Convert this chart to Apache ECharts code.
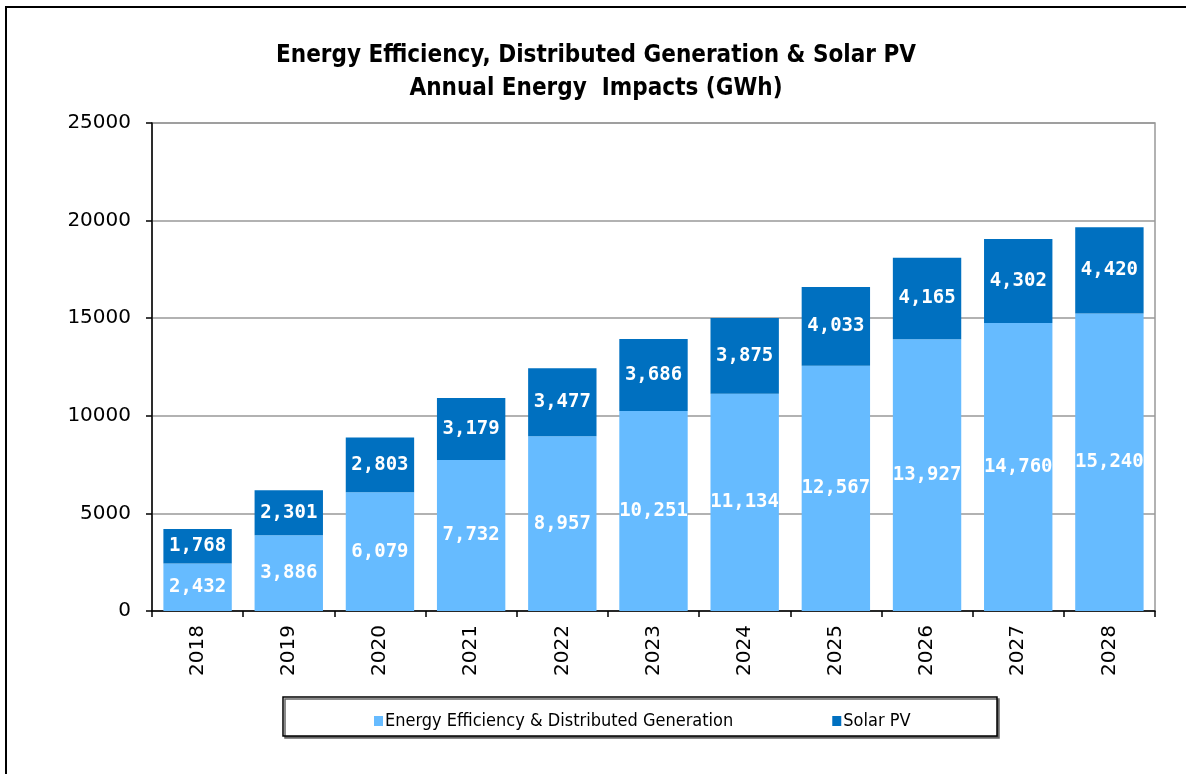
<!DOCTYPE html>
<html>
<head>
<meta charset="utf-8">
<script src="https://cdn.jsdelivr.net/npm/echarts@6/dist/echarts.min.js"></script>
<style>
  html, body { margin: 0; padding: 0; background: #fff; }
  #main { width: 1186px; height: 774px; }
</style>
</head>
<body>
<div id="main"></div>
<script>
  var years = ['2018', '2019', '2020', '2021', '2022', '2023', '2024', '2025', '2026', '2027', '2028'];
  var efficiency = [2432, 3886, 6079, 7732, 8957, 10251, 11134, 12567, 13927, 14760, 15240];
  var solar = [1768, 2301, 2803, 3179, 3477, 3686, 3875, 4033, 4165, 4302, 4420];
  var yTicks = [0, 5000, 10000, 15000, 20000, 25000];

  var myChart = echarts.init(document.getElementById('main'));

  function fmt(p) {
    return p.value.toLocaleString('en-US');
  }

  var condensed = '"DejaVu Sans Condensed", "Liberation Sans", sans-serif';

  var labelStyle = {
    show: true,
    position: 'inside',
    color: '#fff',
    fontFamily: 'DejaVu Sans Mono',
    fontWeight: 'bold',
    fontSize: 19,
    formatter: fmt
  };

  var option = {
    animation: false,
    backgroundColor: '#fff',
    title: {
      text: 'Energy Efficiency, Distributed Generation & Solar PV\nAnnual Energy  Impacts (GWh)',
      left: 591,
      textAlign: 'center',
      top: 34,
      textStyle: {
        fontFamily: condensed,
        fontWeight: 'bold',
        fontSize: 24,
        lineHeight: 33,
        color: '#000'
      }
    },
    graphic: [
      {
        type: 'rect',
        shape: { x: 6, y: 7, width: 1300, height: 900 },
        style: { fill: 'none', stroke: '#000', lineWidth: 2 },
        z: 0
      },
      {
        type: 'rect',
        shape: { x: 283, y: 697, width: 714, height: 39 },
        style: {
          fill: '#fff', stroke: '#000', lineWidth: 1.5,
          shadowColor: '#666', shadowOffsetX: 2, shadowOffsetY: 2, shadowBlur: 0
        },
        z: 0
      }
    ],
    legend: {
      left: 369,
      top: 707,
      itemWidth: 9,
      itemHeight: 10,
      itemGap: 99,
      icon: 'rect',
      z: 10,
      textStyle: {
        fontFamily: condensed,
        fontSize: 18,
        color: '#000',
        padding: [0, 0, 0, -3]
      },
      data: ['Energy Efficiency & Distributed Generation', 'Solar PV']
    },
    grid: {
      left: 152,
      right: 31,
      top: 123,
      bottom: 163,
      show: true,
      borderColor: '#999',
      borderWidth: 1.5
    },
    xAxis: {
      type: 'category',
      data: years,
      axisLine: { show: true, lineStyle: { color: '#000', width: 1.5 } },
      axisTick: { show: true, length: 6, lineStyle: { color: '#000', width: 1.5 } },
      axisLabel: {
        rotate: 90,
        margin: 14,
        color: '#000',
        fontFamily: 'DejaVu Sans',
        fontSize: 20
      }
    },
    yAxis: {
      type: 'value',
      min: yTicks[0],
      max: yTicks[yTicks.length - 1],
      interval: 5000,
      axisLine: { show: true, lineStyle: { color: '#000', width: 1.5 } },
      axisTick: { show: true, length: 6, lineStyle: { color: '#000', width: 1.5 } },
      splitLine: { show: true, lineStyle: { color: '#999', width: 1.5 } },
      axisLabel: {
        margin: 21,
        color: '#000',
        fontFamily: 'DejaVu Sans',
        fontSize: 20,
        formatter: function (v) { return String(v); }
      }
    },
    series: [
      {
        name: 'Energy Efficiency & Distributed Generation',
        type: 'bar',
        stack: 'total',
        barWidth: '75%',
        data: efficiency,
        itemStyle: { color: '#66BBFF' },
        label: labelStyle
      },
      {
        name: 'Solar PV',
        type: 'bar',
        stack: 'total',
        data: solar,
        itemStyle: { color: '#0070C0' },
        label: labelStyle
      }
    ]
  };

  myChart.setOption(option);
</script>
</body>
</html>
